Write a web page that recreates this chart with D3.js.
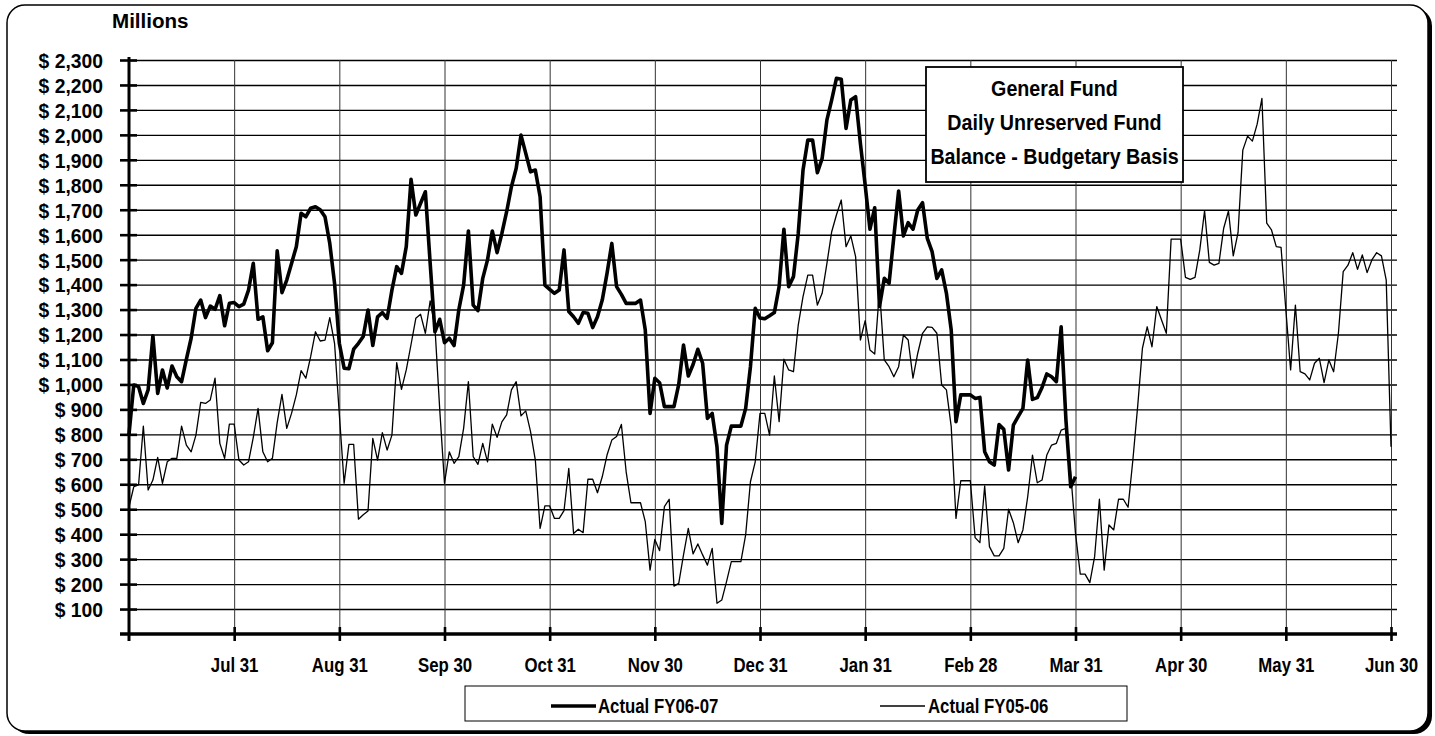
<!DOCTYPE html>
<html>
<head>
<meta charset="utf-8">
<script src="https://cdn.jsdelivr.net/npm/d3@7"></script>
<style>
  body { margin: 0; background: #fff; }
  svg text { font-family: "Liberation Sans", Arial, sans-serif; font-weight: bold; fill: #000; }
</style>
</head>
<body>
<svg id="chart" width="1435" height="736"></svg>
<script>
/* General Fund - Daily Unreserved Fund Balance
   ========================================================================== */

// Month-end tick labels (22 daily points per month on the category axis)
var monthLabels = ["Jul 31", "Aug 31", "Sep 30", "Oct 31", "Nov 30", "Dec 31",
                   "Jan 31", "Feb 28", "Mar 31", "Apr 30", "May 31", "Jun 30"];
var monthTicks = [22, 44, 66, 88, 110, 132, 154, 176, 198, 220, 242, 264];
var yTicks = [100, 200, 300, 400, 500, 600, 700, 800, 900, 1000, 1100, 1200,
              1300, 1400, 1500, 1600, 1700, 1800, 1900, 2000, 2100, 2200, 2300];

// Actual FY06-07 ($ millions), runs through Mar 31
var fy0607 = [
  800, 998, 991, 924, 978, 1195, 964, 1058, 986, 1074, 1031, 1011, 1100, 1185, 1305, 1338,
  1268, 1314, 1301, 1356, 1235, 1325, 1328, 1312, 1322, 1378, 1485, 1261, 1271, 1135, 1167, 1535,
  1368, 1418, 1485, 1552, 1686, 1672, 1706, 1712, 1700, 1672, 1565, 1405, 1165, 1065, 1063, 1141,
  1165, 1192, 1298, 1156, 1271, 1288, 1265, 1378, 1472, 1445, 1552, 1822, 1679, 1726, 1772, 1486,
  1211, 1261, 1167, 1185, 1156, 1300, 1398, 1615, 1318, 1296, 1425, 1499, 1615, 1528, 1605, 1692,
  1792, 1866, 1999, 1926, 1852, 1859, 1752, 1398, 1381, 1365, 1378, 1539, 1292, 1271, 1245, 1288,
  1285, 1228, 1271, 1338, 1445, 1565, 1392, 1361, 1325, 1325, 1325, 1338, 1218, 884, 1025, 1007,
  911, 911, 911, 1000, 1158, 1034, 1080, 1141, 1085, 864, 884, 750, 443, 757, 833, 833,
  833, 904, 1071, 1305, 1266, 1263, 1275, 1288, 1392, 1622, 1392, 1432, 1605, 1859, 1979, 1979,
  1848, 1906, 2060, 2140, 2227, 2223, 2026, 2140, 2153, 1966, 1799, 1622, 1708, 1312, 1425, 1405,
  1592, 1775, 1595, 1648, 1622, 1699, 1728, 1585, 1532, 1425, 1459, 1365, 1218, 851, 958, 958,
  958, 944, 948, 730, 690, 677, 839, 820, 657, 837, 871, 904, 1098, 940, 947, 988,
  1042, 1031, 1011, 1231, 857, 590, 630
];

// Actual FY05-06 ($ millions), full year
var fy0506 = [
  509, 590, 597, 833, 577, 617, 708, 604, 690, 704, 704, 833, 757, 730, 797, 928,
  924, 938, 1025, 764, 704, 841, 841, 697, 677, 690, 788, 904, 730, 690, 704, 847,
  960, 824, 884, 958, 1055, 1025, 1111, 1211, 1174, 1178, 1268, 1165, 880, 604, 760, 760,
  460, 478, 493, 784, 697, 807, 737, 797, 1087, 980, 1058, 1160, 1265, 1281, 1205, 1335,
  1230, 900, 604, 730, 684, 711, 824, 1011, 711, 680, 764, 690, 841, 788, 850, 878,
  978, 1011, 874, 894, 811, 697, 423, 513, 513, 463, 463, 494, 664, 403, 420, 406,
  620, 620, 566, 630, 717, 777, 791, 840, 650, 526, 526, 526, 450, 256, 379, 334,
  510, 540, 192, 203, 317, 423, 321, 361, 317, 276, 343, 123, 136, 210, 290, 290,
  290, 397, 610, 690, 884, 884, 797, 1034, 851, 1101, 1058, 1051, 1238, 1352, 1438, 1438,
  1318, 1365, 1485, 1612, 1680, 1739, 1552, 1595, 1512, 1178, 1256, 1138, 1122, 1380, 1098, 1071,
  1031, 1071, 1198, 1178, 1025, 1125, 1205, 1231, 1229, 1205, 998, 978, 831, 463, 614, 614,
  614, 386, 366, 593, 350, 313, 313, 343, 500, 446, 366, 417, 550, 717, 606, 617,
  717, 757, 764, 817, 824, 644, 403, 240, 240, 206, 310, 540, 256, 437, 417, 540,
  540, 508, 697, 911, 1145, 1231, 1151, 1312, 1258, 1205, 1582, 1582, 1582, 1429, 1421, 1429,
  1539, 1696, 1489, 1478, 1485, 1626, 1695, 1515, 1608, 1939, 1995, 1975, 2043, 2146, 1646, 1619,
  1552, 1549, 1300, 1058, 1318, 1051, 1042, 1018, 1085, 1105, 1007, 1098, 1051, 1205, 1452, 1478,
  1528, 1461, 1519, 1448, 1499, 1528, 1515, 1418, 750
];

var titleLines = ["General Fund", "Daily Unreserved Fund", "Balance - Budgetary Basis"];

// Set Margin
var margin = { top: 60, left: 129 },
    width = 1262,
    height = 574;

// Squeeze text horizontally (the original uses a condensed face)
function squeeze(sel, k) {
    sel.each(function() {
        var t = d3.select(this);
        var xv = +t.attr("x") || 0;
        t.attr("x", xv / k).attr("transform", "scale(" + k + ",1)");
    });
}

var svg = d3.select("#chart");

// Rounded frame with a drop shadow on the right and bottom
svg.append("rect")
    .attr("x", 11).attr("y", 8)
    .attr("width", 1421).attr("height", 726)
    .attr("rx", 18)
    .attr("fill", "#000");
svg.append("rect")
    .attr("x", 7).attr("y", 5)
    .attr("width", 1421).attr("height", 726)
    .attr("rx", 18)
    .attr("fill", "#fff")
    .attr("stroke", "#000")
    .attr("stroke-width", 1.5);

svg.append("text")
    .attr("x", 112).attr("y", 28)
    .style("font-size", "21px")
    .text("Millions")
    .call(squeeze, 0.98);

var g = svg.append("g")
    .attr("transform", "translate(" + margin.left + "," + margin.top + ")");

// Set Range
var x = d3.scaleLinear().domain([0, 264]).range([0, width]);
var y = d3.scaleLinear().domain([0, 2300]).range([height, 0]);

// Horizontal grid
var gridY = g.append("g")
    .call(d3.axisLeft(y).tickValues(yTicks).tickSize(-(width + 6)).tickFormat(""));
gridY.select(".domain").remove();
gridY.selectAll("line").attr("stroke", "#000").attr("stroke-width", 1.4);

// Vertical grid at month ends
var gridX = g.append("g")
    .call(d3.axisTop(x).tickValues(monthTicks).tickSize(0).tickFormat(""));
gridX.select(".domain").remove();
gridX.selectAll(".tick line")
    .attr("y1", 0).attr("y2", height)
    .attr("stroke", "#333").attr("stroke-width", 1);

// Series lines
var line = d3.line()
    .x(function(d, i) { return x(i); })
    .y(function(d) { return y(d); });

g.append("path")
    .datum(fy0506)
    .attr("fill", "none")
    .attr("stroke", "#000")
    .attr("stroke-width", 1.3)
    .attr("stroke-linejoin", "round")
    .attr("d", line);

g.append("path")
    .datum(fy0607)
    .attr("fill", "none")
    .attr("stroke", "#000")
    .attr("stroke-width", 3.6)
    .attr("stroke-linejoin", "round")
    .attr("d", line);

// Y axis with ticks crossing the line
var yAxis = g.append("g")
    .call(d3.axisLeft(y).tickValues(yTicks).tickSize(9)
        .tickFormat(function(d) { return "$ " + d3.format(",")(d); }));
yAxis.select(".domain").remove();
yAxis.selectAll(".tick line").attr("x1", 8).attr("x2", -9).attr("stroke-width", 2.6);
yAxis.selectAll(".tick text")
    .attr("x", -26).attr("dy", "0.35em")
    .style("font-size", "21px")
    .call(squeeze, 0.92);

g.append("line")
    .attr("x1", 0).attr("x2", 0)
    .attr("y1", -3).attr("y2", height + 7)
    .attr("stroke", "#000").attr("stroke-width", 3);

// X axis
var xAxis = g.append("g")
    .attr("transform", "translate(0," + height + ")")
    .call(d3.axisBottom(x).tickValues(monthTicks).tickSize(7)
        .tickFormat(function(d, i) { return monthLabels[i]; }));
xAxis.select(".domain").remove();
xAxis.selectAll(".tick line").attr("y1", -7).attr("y2", 7).attr("stroke-width", 2.6);
xAxis.selectAll(".tick text")
    .attr("y", 38).attr("dy", 0)
    .style("font-size", "21px")
    .call(squeeze, 0.8);

g.append("line")
    .attr("x1", -9).attr("x2", width + 6)
    .attr("y1", height).attr("y2", height)
    .attr("stroke", "#000").attr("stroke-width", 3.4);

// Title box
svg.append("rect")
    .attr("x", 926).attr("y", 67)
    .attr("width", 257).attr("height", 115)
    .attr("fill", "#fff")
    .attr("stroke", "#000")
    .attr("stroke-width", 1.8);
svg.selectAll(".title-line")
    .data(titleLines)
    .enter().append("text")
    .attr("class", "title-line")
    .attr("x", 1054.5)
    .attr("y", function(d, i) { return 96 + i * 34; })
    .attr("text-anchor", "middle")
    .style("font-size", "22px")
    .text(function(d) { return d; })
    .call(squeeze, 0.895);

// Legend
var legend = svg.append("g");
legend.append("rect")
    .attr("x", 465).attr("y", 686)
    .attr("width", 662).attr("height", 35)
    .attr("fill", "#fff")
    .attr("stroke", "#000")
    .attr("stroke-width", 1);
legend.append("line")
    .attr("x1", 551).attr("x2", 596).attr("y1", 706).attr("y2", 706)
    .attr("stroke", "#000").attr("stroke-width", 3.6);
legend.append("text")
    .attr("x", 598).attr("y", 713)
    .style("font-size", "21px")
    .text("Actual FY06-07")
    .call(squeeze, 0.8);
legend.append("line")
    .attr("x1", 880).attr("x2", 925).attr("y1", 706).attr("y2", 706)
    .attr("stroke", "#000").attr("stroke-width", 1.3);
legend.append("text")
    .attr("x", 928).attr("y", 713)
    .style("font-size", "21px")
    .text("Actual FY05-06")
    .call(squeeze, 0.8);
</script>
</body>
</html>
